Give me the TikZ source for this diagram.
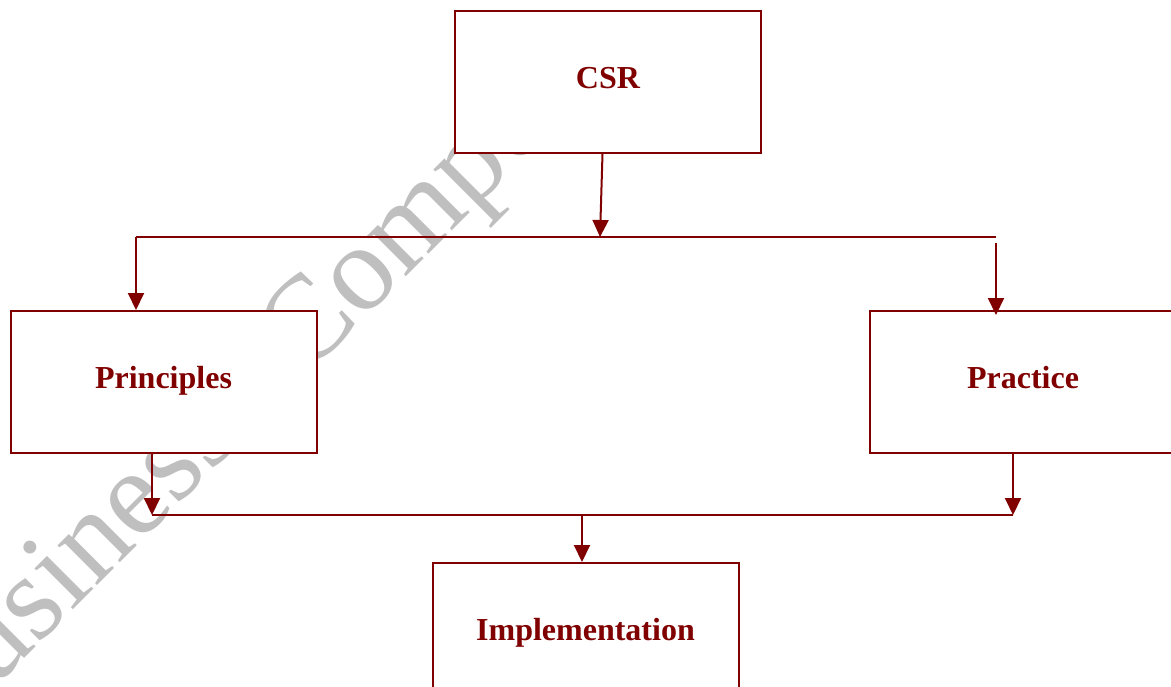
\documentclass[tikz,border=0pt]{standalone}
\usepackage{fontspec}
\setmainfont{Liberation Serif}
\usetikzlibrary{arrows.meta}
\definecolor{maroonc}{HTML}{800000}
\tikzset{
  box/.style={draw=maroonc, line width=2pt, fill=white, minimum width=306pt, minimum height=142pt,
    inner sep=0pt, text=maroonc, font=\fontsize{32}{32}\selectfont\bfseries,
    text height=21.2pt, text depth=8pt},
  conn/.style={draw=maroonc, line width=2pt},
  arr/.style={conn, -{Triangle[length=17pt, width=16pt]}},
  wmark/.style={text=black!25, font=\fontsize{122}{122}\selectfont, rotate=45, anchor=base west, inner sep=0pt}
}
\begin{document}
\begin{tikzpicture}[x=1pt, y=-1pt]
\useasboundingbox (0,0) rectangle (1171,686);
\clip (0,0) rectangle (1171,686);
% watermark
\node[wmark] (wm) at (-63,746) {Business\hspace{0.70em}Compe};
% boxes
\node[box] (csr) at (608,82) {CSR};
\node[box] (princ) at (163.5,382) {Principles};
\node[box] (prac) at (1023,382) {Practice};
\node[box] (impl) at (585.5,634) {Implementation};
% junction coordinates
\coordinate (j1) at (600,237);
\coordinate (jl) at (136,237);
\coordinate (jr) at (996,237);
\coordinate (jr2) at (996,243);
\coordinate (k1) at (152,515);
\coordinate (k2) at (1013,515);
\coordinate (km) at (582,515);
% connectors
\draw[arr] ([xshift=-5.5pt]csr.south) -- (j1);
\draw[conn] (jl) -- (jr);
\draw[arr] (jl) -- (princ.north -| jl);
\draw[arr] (jr2) -- ([yshift=-5pt]prac.north -| jr2);
\draw[arr] (princ.south -| k1) -- (k1);
\draw[arr] (prac.south -| k2) -- (k2);
\draw[conn] (k1) -- (k2);
\draw[arr] (km) -- (impl.north -| km);
\end{tikzpicture}
\end{document}
